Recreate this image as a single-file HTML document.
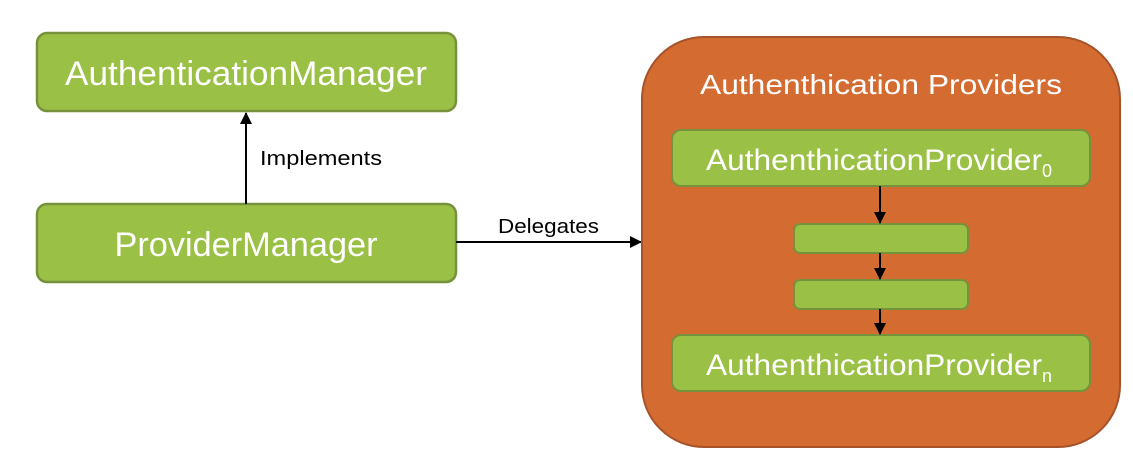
<!DOCTYPE html>
<html><head><meta charset="utf-8"><style>html,body{margin:0;padding:0;background:#fff}svg{display:block}</style></head>
<body>
<svg width="1133" height="462" viewBox="0 0 1133 462" xmlns="http://www.w3.org/2000/svg" font-family="'Liberation Sans', sans-serif">
<defs>
<marker id="ah" markerWidth="12" markerHeight="12" refX="11" refY="6" orient="auto" markerUnits="userSpaceOnUse">
<path d="M0,0 L12,6 L0,12 z" fill="#000"/>
</marker>
</defs>
<rect x="37" y="33" width="419" height="78" rx="10" fill="#9bc046" stroke="#76923c" stroke-width="2.5"/>
<text x="246" y="85" text-anchor="middle" font-size="34" fill="#fff" textLength="362" lengthAdjust="spacingAndGlyphs">AuthenticationManager</text>
<rect x="37" y="204" width="419" height="78" rx="10" fill="#9bc046" stroke="#76923c" stroke-width="2.5"/>
<text x="246" y="256" text-anchor="middle" font-size="34" fill="#fff" textLength="263" lengthAdjust="spacingAndGlyphs">ProviderManager</text>
<line x1="246" y1="204" x2="246" y2="113" stroke="#000" stroke-width="2" marker-end="url(#ah)"/>
<text x="260" y="165" font-size="20" fill="#000" textLength="122" lengthAdjust="spacingAndGlyphs">Implements</text>
<line x1="456" y1="242" x2="641" y2="242" stroke="#000" stroke-width="2" marker-end="url(#ah)"/>
<text x="498" y="233" font-size="20" fill="#000" textLength="101" lengthAdjust="spacingAndGlyphs">Delegates</text>
<rect x="642" y="37" width="478" height="410" rx="62" fill="#d46b30" stroke="#a5532a" stroke-width="2"/>
<text x="700" y="94" font-size="28" fill="#fff" textLength="362" lengthAdjust="spacingAndGlyphs">Authenthication Providers</text>
<rect x="672" y="130" width="418" height="56" rx="9" fill="#9bc046" stroke="#76923c" stroke-width="2"/>
<text x="706" y="170" font-size="30" fill="#fff"><tspan textLength="336" lengthAdjust="spacingAndGlyphs">AuthenthicationProvider</tspan><tspan font-size="18" dy="7">0</tspan></text>
<rect x="794" y="224" width="174" height="29" rx="6" fill="#9bc046" stroke="#76923c" stroke-width="2"/>
<rect x="794" y="280" width="174" height="29" rx="6" fill="#9bc046" stroke="#76923c" stroke-width="2"/>
<rect x="672" y="335" width="418" height="56" rx="9" fill="#9bc046" stroke="#76923c" stroke-width="2"/>
<text x="706" y="375" font-size="30" fill="#fff"><tspan textLength="336" lengthAdjust="spacingAndGlyphs">AuthenthicationProvider</tspan><tspan font-size="18" dy="7">n</tspan></text>
<line x1="880" y1="186" x2="880" y2="223" stroke="#000" stroke-width="2" marker-end="url(#ah)"/>
<line x1="880" y1="253" x2="880" y2="279" stroke="#000" stroke-width="2" marker-end="url(#ah)"/>
<line x1="880" y1="309" x2="880" y2="334" stroke="#000" stroke-width="2" marker-end="url(#ah)"/>
</svg>
</body></html>
